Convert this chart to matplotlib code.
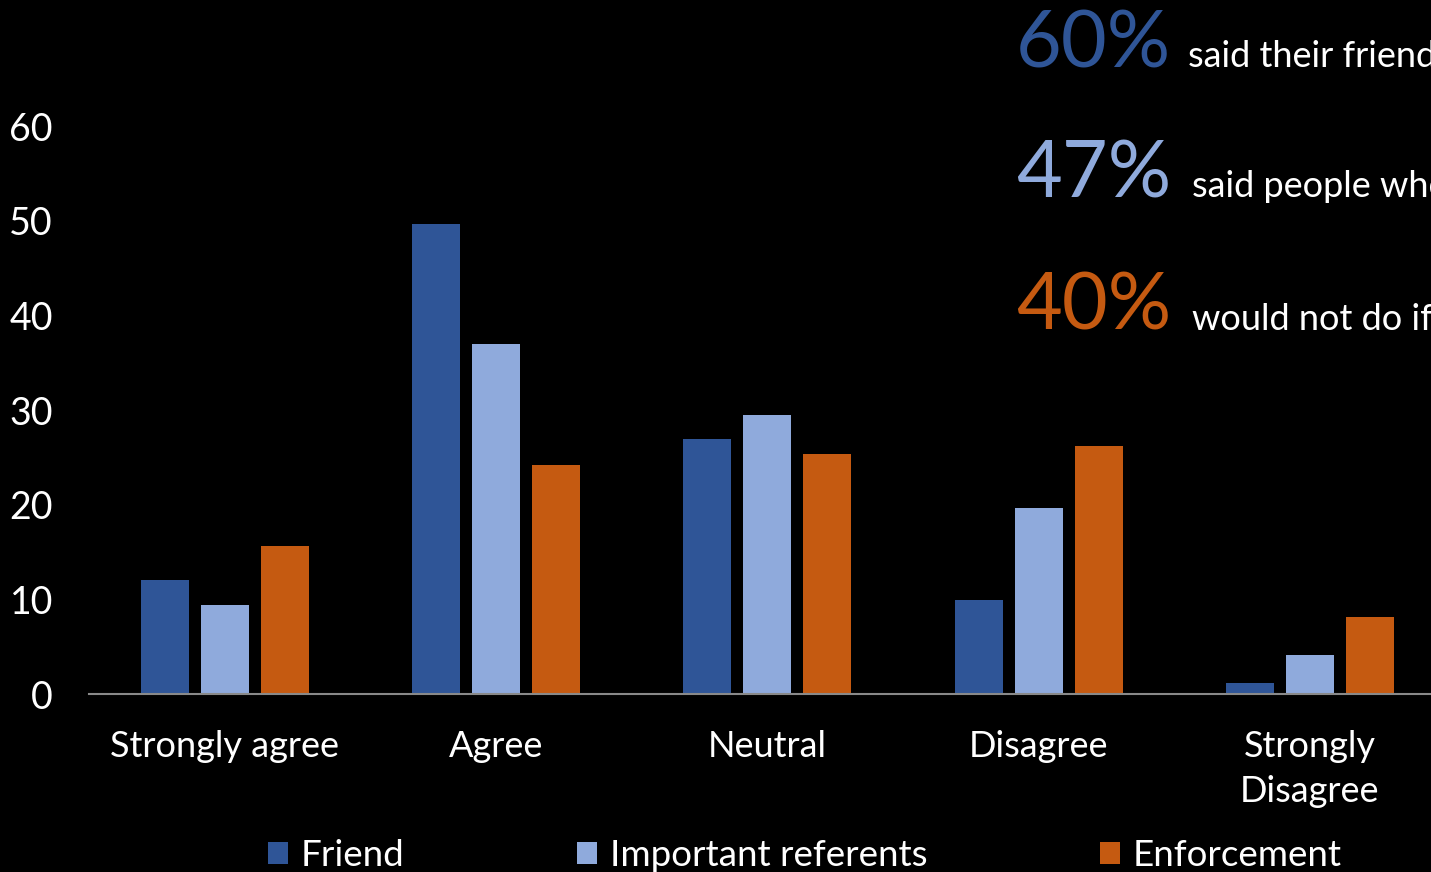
import matplotlib.pyplot as plt
import numpy as np

categories = ["Strongly agree", "Agree", "Neutral", "Disagree", "Strongly\nDisagree"]
series_names = ["Friend", "Important referents", "Enforcement"]
friend = [12.0, 49.7, 26.9, 9.9, 1.2]
important = [9.4, 37.0, 29.5, 19.6, 4.1]
enforcement = [15.6, 24.2, 25.4, 26.2, 8.1]
yticks = [0, 10, 20, 30, 40, 50, 60]

callout_values = ["60%", "47%", "40%"]
callout_texts = ["said their friends", "said people who", "would not do if"]

colors = ["#2F5597", "#8FAADC", "#C55A11"]
plt.rcParams["font.family"] = ["Lato", "DejaVu Sans"]

W, H = 1431, 872
fig = plt.figure(figsize=(W / 100, H / 100), dpi=100, facecolor="black")

# axes extends past the right edge, like the original slide
left, bottom = 89 / W, (H - 694) / H
width, height = 1356.5 / W, 568 / H
ax = fig.add_axes([left, bottom, width, height], facecolor="black")

x = np.arange(len(categories))
bw = 48 / 271.3
step = 60 / 271.3
bars = []
for i, (vals, name) in enumerate(zip([friend, important, enforcement], series_names)):
    b = ax.bar(x + (i - 1) * step, vals, bw, color=colors[i], label=name)
    bars.append(b)

ax.set_xlim(-0.5, len(categories) - 0.5)
ax.set_ylim(0, 60)
ax.set_yticks(yticks)
ax.set_xticks(x)
ax.set_xticklabels(categories, fontsize=26, color="white", linespacing=1.45)
ax.tick_params(axis="y", length=0, pad=26, labelsize=27, labelcolor="white")
ax.tick_params(axis="x", length=0, pad=26)
for side in ["left", "right", "top"]:
    ax.spines[side].set_visible(False)
ax.spines["bottom"].set_color("#898989")
ax.spines["bottom"].set_linewidth(1.5)

fig.legend(handles=bars, labels=series_names, loc="lower left",
           bbox_to_anchor=(268 / W, 0.0), ncol=3, frameon=False,
           fontsize=26.5, labelcolor="white", handlelength=0.55, handleheight=0.55,
           handletextpad=0.33, columnspacing=4.7, borderpad=0, borderaxespad=0)

# callouts at the top right (cut off at the slide edge, as in the original)
for i, (val, txt) in enumerate(zip(callout_values, callout_texts)):
    yb = [67, 197, 330][i]
    fig.text(1016 / W, 1 - yb / H, val, color=colors[i], fontsize=57,
             va="baseline", ha="left")
    fig.text((1188 + 4 * (i > 0)) / W, 1 - yb / H, txt, color="white",
             fontsize=26, va="baseline", ha="left")

fig.savefig("out.png", dpi=100, facecolor="black")
